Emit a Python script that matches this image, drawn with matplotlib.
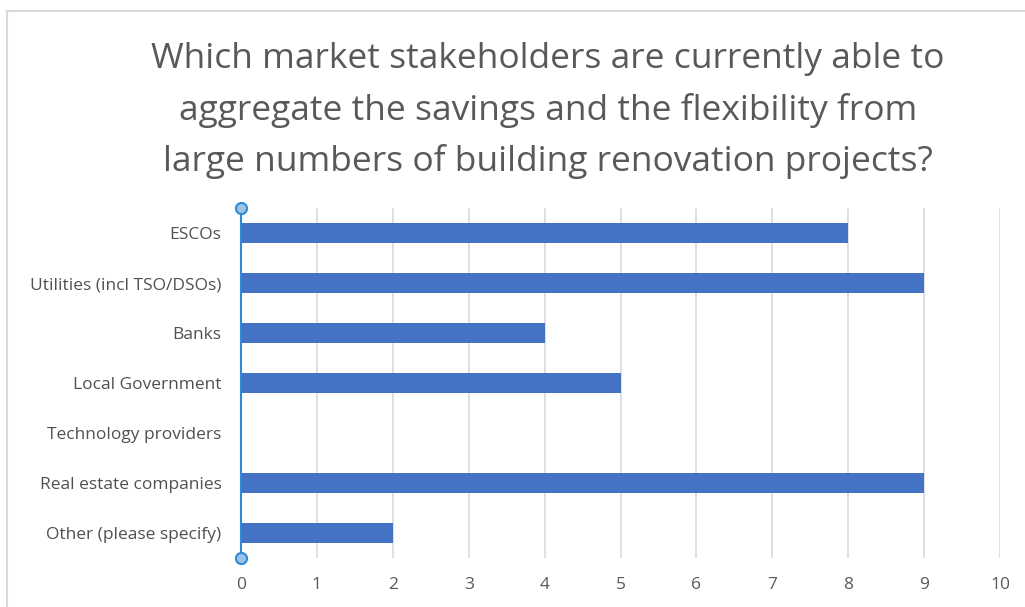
import matplotlib.pyplot as plt
from matplotlib.lines import Line2D

categories = ['ESCOs', 'Utilities (incl TSO/DSOs)', 'Banks', 'Local Government',
              'Technology providers', 'Real estate companies', 'Other (please specify)']
counts = [8, 9, 4, 5, 0, 9, 2]
xticks = list(range(0, 11))

title = ('Which market stakeholders are currently able to\n'
         'aggregate the savings and the flexibility from\n'
         'large numbers of building renovation projects?')

plt.rcParams['font.family'] = ['Open Sans', 'DejaVu Sans']

fig = plt.figure(figsize=(10.25, 6.07), dpi=100)
W, H = 1025, 607
# axes box in pixel terms: x 241..1000, y 208..558
ax = fig.add_axes([241 / W, 1 - 558 / H, (1000 - 241) / W, (558 - 208) / H])

ypos = list(range(len(categories)))
ax.barh(ypos, counts, height=0.4, color='#4472C4', zorder=3)
ax.set_ylim(len(categories) - 0.5, -0.5)
ax.set_xlim(0, 10)
ax.set_yticks(ypos)
ax.set_yticklabels(categories, fontsize=12.5, color='#505050')
ax.set_xticks(xticks)
ax.set_xticklabels([str(t) for t in xticks], fontsize=12.5, color='#595959')
ax.tick_params(length=0)
ax.tick_params(axis='y', pad=14)
ax.tick_params(axis='x', pad=14)

ax.xaxis.grid(True, color='#D9D9D9', linewidth=1.2, zorder=0)
for s in ax.spines.values():
    s.set_visible(False)

# selected vertical axis with handles
ax.plot([0, 0], [-0.5, len(categories) - 0.5], color='#2E8BD8', linewidth=1.5,
        zorder=5, clip_on=False)
ax.plot([0, 0], [-0.5, len(categories) - 0.5], linestyle='none', marker='o',
        markersize=8, markerfacecolor='#9DC3E6', markeredgecolor='#2E8BD8',
        markeredgewidth=1.5, zorder=6, clip_on=False)

fig.text(548 / W, 1 - 110.5 / H, title, ha='center', va='center', fontsize=25.5,
         color='#595959', linespacing=1.6)

# light chart frame
fig.add_artist(Line2D([7 / W, 7 / W], [0, 1 - 11 / H], transform=fig.transFigure,
                      color='#D9D9D9', linewidth=1.5))
fig.add_artist(Line2D([7 / W, 1], [1 - 11 / H, 1 - 11 / H], transform=fig.transFigure,
                      color='#D9D9D9', linewidth=1.5))

plt.savefig('out.png', dpi=100)
